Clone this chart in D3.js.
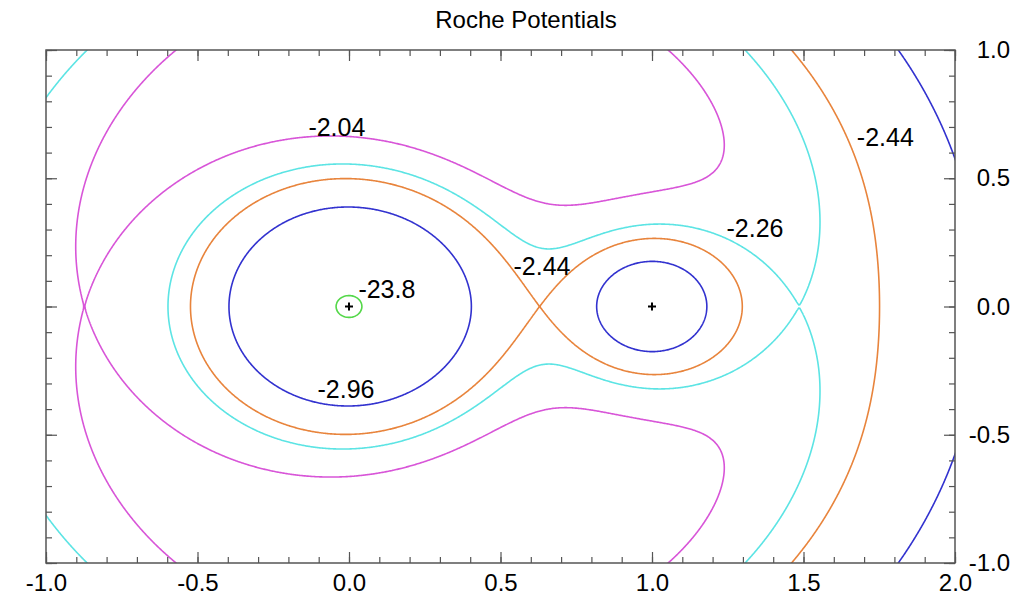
<html>
<head>
    <style>
        body { margin: 0; background: #ffffff; }
        text { font-family: "Liberation Sans", Arial, Helvetica, sans-serif; fill: #000; }
        .axis path.domain { display: none; }
        .axis line { stroke: #555; stroke-width: 1.2; }
        .axis text { font-size: 24px; }
    </style>
</head>
<body>
    <svg id="container" width="1019" height="602"></svg>
</body>
<script src="https://cdn.jsdelivr.net/npm/d3@7"></script>
<script>
    // contour levels (the outer ones sit on the L2 / L3 saddle points) and colours
    let levels = [-23.8, -2.96, -2.44, -2.2675, -2.0479]
    let levelColors = ["#55d84a", "#3232cf", "#e8843c", "#5ce4e4", "#d855d8"]

    // two point masses on the x axis
    let massValues = [1, 0.275]
    let massX = [0, 1]

    // contour labels (text, x, y in data units)
    let labelText = ["-2.04", "-2.44", "-2.26", "-2.44", "-23.8", "-2.96"]
    let labelX = [-0.04, 1.77, 1.34, 0.637, 0.125, -0.01]
    let labelY = [0.70, 0.66, 0.306, 0.158, 0.07, -0.32]

    let xTicks = [-1.0, -0.5, 0.0, 0.5, 1.0, 1.5, 2.0]
    let yTicks = [-1.0, -0.5, 0.0, 0.5, 1.0]
    let xMinor = d3.range(-10, 21).map(d => d / 10)
    let yMinor = d3.range(-10, 11).map(d => d / 10)

    let svg = d3.select("#container")
    let plotLeft = 46, plotRight = 955, plotTop = 50, plotBottom = 563

    let xScale = d3.scaleLinear().domain([-1, 2]).range([plotLeft, plotRight])
    let yScale = d3.scaleLinear().domain([-1, 1]).range([plotBottom, plotTop])

    svg.append("text")
        .attr("x", 526)
        .attr("y", 28)
        .attr("text-anchor", "middle")
        .style("font-size", "24px")
        .text("Roche Potentials")

    // potential on a grid a little bigger than the plot (border rings get clipped)
    let gx0 = -1.05, gx1 = 2.05, gy0 = -1.05, gy1 = 1.05
    let nx = 960, ny = 660
    let dx = (gx1 - gx0) / (nx - 1)
    let dy = (gy1 - gy0) / (ny - 1)
    let mTot = massValues[0] + massValues[1]
    let xcm = (massValues[0] * massX[0] + massValues[1] * massX[1]) / mTot

    let grid = new Float64Array(nx * ny)
    for (let j = 0; j < ny; j++) {
        let y = gy1 - j * dy
        for (let i = 0; i < nx; i++) {
            let x = gx0 + i * dx
            let phi = -0.5 * mTot * ((x - xcm) * (x - xcm) + y * y)
            for (let k = 0; k < massValues.length; k++) {
                let r = Math.max(Math.hypot(x - massX[k], y), 1e-4)
                phi -= massValues[k] / r
            }
            grid[j * nx + i] = Math.max(phi, -200)
        }
    }

    let contours = d3.contours()
        .size([nx, ny])
        .thresholds(levels)(grid)

    // drop rings too small to show on the original plot (tiny one round the second mass)
    let bigEnough = ring => {
        let xs = ring.map(p => p[0])
        return d3.max(xs) - d3.min(xs) > 12
    }
    contours.forEach(c => {
        c.coordinates = c.coordinates
            .map(poly => poly.filter(bigEnough))
            .filter(poly => poly.length > 0)
    })

    let proj = d3.geoTransform({
        point: function (px, py) {
            this.stream.point(xScale(gx0 + (px - 0.5) * dx), yScale(gy1 - (py - 0.5) * dy))
        }
    })
    let path = d3.geoPath(proj)

    let colorScale = d3.scaleOrdinal().domain(levels).range(levelColors)

    svg.append("clipPath")
        .attr("id", "plotclip")
        .append("rect")
        .attr("x", plotLeft)
        .attr("y", plotTop)
        .attr("width", plotRight - plotLeft)
        .attr("height", plotBottom - plotTop)

    svg.append("g")
        .attr("clip-path", "url(#plotclip)")
        .selectAll("path")
        .data(contours)
        .enter()
        .append("path")
        .attr("d", path)
        .attr("fill", "none")
        .attr("stroke", d => colorScale(d.value))
        .attr("stroke-width", 1.6)

    // the two masses
    let plus = svg.append("g")
    massX.forEach(mx => {
        let cx = xScale(mx), cy = yScale(0)
        plus.append("path")
            .attr("d", `M${cx - 4},${cy}H${cx + 4}M${cx},${cy - 4}V${cy + 4}`)
            .attr("stroke", "#000")
            .attr("stroke-width", 2)
    })

    // contour labels
    svg.append("g")
        .selectAll("text")
        .data(labelText)
        .enter()
        .append("text")
        .attr("x", (d, i) => xScale(labelX[i]))
        .attr("y", (d, i) => yScale(labelY[i]))
        .attr("dy", "0.36em")
        .attr("text-anchor", "middle")
        .style("font-size", "25px")
        .text(d => d)

    // frame
    svg.append("rect")
        .attr("x", plotLeft)
        .attr("y", plotTop)
        .attr("width", plotRight - plotLeft)
        .attr("height", plotBottom - plotTop)
        .attr("fill", "none")
        .attr("stroke", "#555")
        .attr("stroke-width", 1.5)

    // minor ticks, inward
    let fmtNone = () => ""
    svg.append("g").attr("class", "axis").attr("transform", `translate(0,${plotBottom})`)
        .call(d3.axisBottom(xScale).tickValues(xMinor).tickSize(-6).tickFormat(fmtNone))
    svg.append("g").attr("class", "axis").attr("transform", `translate(0,${plotTop})`)
        .call(d3.axisTop(xScale).tickValues(xMinor).tickSize(-6).tickFormat(fmtNone))
    svg.append("g").attr("class", "axis").attr("transform", `translate(${plotLeft},0)`)
        .call(d3.axisLeft(yScale).tickValues(yMinor).tickSize(-6).tickFormat(fmtNone))
    svg.append("g").attr("class", "axis").attr("transform", `translate(${plotRight},0)`)
        .call(d3.axisRight(yScale).tickValues(yMinor).tickSize(-6).tickFormat(fmtNone))

    // major ticks with labels on bottom and right
    let fmt = d => d3.format(".1f")(d).replace("−", "-")
    svg.append("g").attr("class", "axis").attr("transform", `translate(0,${plotBottom})`)
        .call(d3.axisBottom(xScale).tickValues(xTicks).tickSize(-11).tickPadding(11).tickFormat(fmt))
    svg.append("g").attr("class", "axis").attr("transform", `translate(0,${plotTop})`)
        .call(d3.axisTop(xScale).tickValues(xTicks).tickSize(-11).tickFormat(fmtNone))
    svg.append("g").attr("class", "axis").attr("transform", `translate(${plotLeft},0)`)
        .call(d3.axisLeft(yScale).tickValues(yTicks).tickSize(-11).tickFormat(fmtNone))
    let yAxis = svg.append("g").attr("class", "axis").attr("transform", `translate(${plotRight},0)`)
        .call(d3.axisRight(yScale).tickValues(yTicks).tickSize(-11).tickFormat(fmt))
    yAxis.selectAll("text")
        .attr("x", 55)
        .attr("text-anchor", "end")
</script>
</html>
